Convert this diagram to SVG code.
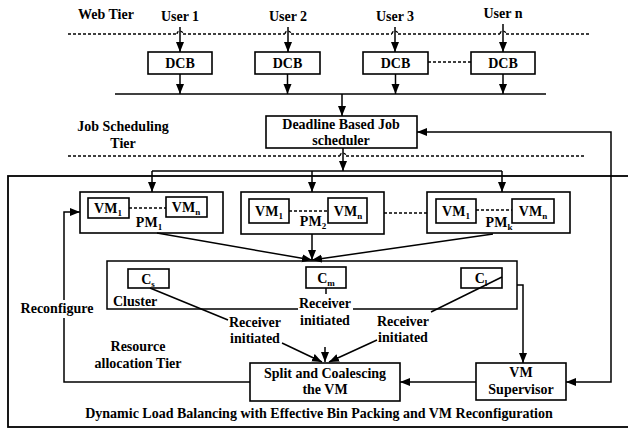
<svg xmlns="http://www.w3.org/2000/svg" width="628" height="429" viewBox="0 0 628 429" font-family="'Liberation Serif', 'DejaVu Serif', serif" font-weight="bold">
<style>
text{font-family:'Liberation Serif','DejaVu Serif',serif;font-weight:bold;font-size:14px;fill:#000}
.m{text-anchor:middle}
.box{fill:#fff;stroke:#000;stroke-width:1.6}
.ln{fill:none;stroke:#000;stroke-width:1.5}
.dash{fill:none;stroke:#000;stroke-width:1.3;stroke-dasharray:3 2}
.arr{marker-end:url(#ah)}
.sub{font-size:9px}
</style>
<defs>
<marker id="ah" markerUnits="userSpaceOnUse" markerWidth="10" markerHeight="10" refX="10" refY="4" orient="auto-start-reverse"><path d="M0,0 L10,4 L0,8 z" fill="#000"/></marker>
</defs>
<rect x="0" y="0" width="628" height="429" fill="#fff"/>

<g id="labels">
<text x="106" y="19" class="m">Web Tier</text>
<text x="123" y="131" class="m">Job Scheduling</text>
<text x="123" y="148" class="m">Tier</text>
<text x="138" y="351" class="m">Resource</text>
<text x="138" y="368" class="m">allocation Tier</text>
<text x="319" y="418" class="m">Dynamic Load Balancing with Effective Bin Packing and VM Reconfiguration</text>
</g>

<g id="tier-lines">
<path class="dash" d="M68,34 H177 M183,34 H285 M291,34 H392 M398,34 H500 M506,34 H590"/>
<path class="dash" d="M177,34 a3,3 0 0 1 6,0 M285,34 a3,3 0 0 1 6,0 M392,34 a3,3 0 0 1 6,0 M500,34 a3,3 0 0 1 6,0"/>
<path class="dash" d="M68,156 H340 M346,156 H586"/>
<path class="dash" d="M340,156 a3,3 0 0 1 6,0"/>
<rect x="8" y="176" width="640" height="251" fill="none" stroke="#000" stroke-width="1.8"/>
</g>

<g id="user1"><text x="180" y="21" class="m">User 1</text></g>
<g id="user2"><text x="288" y="21" class="m">User 2</text></g>
<g id="user3"><text x="395" y="21" class="m">User 3</text></g>
<g id="usern"><text x="503" y="18" class="m">User n</text></g>

<g id="dcb1"><rect class="box" x="148" y="52" width="64" height="22"/><text x="180" y="68" class="m">DCB</text></g>
<g id="dcb2"><rect class="box" x="255" y="52" width="65" height="22"/><text x="287.5" y="68" class="m">DCB</text></g>
<g id="dcb3"><rect class="box" x="363" y="52" width="65" height="22"/><text x="395.5" y="68" class="m">DCB</text></g>
<g id="dcb4"><rect class="box" x="471" y="52" width="64" height="22"/><text x="503" y="68" class="m">DCB</text></g>

<g id="scheduler"><rect class="box" x="266" y="116" width="151" height="32"/>
<text x="341" y="129" class="m">Deadline Based Job</text><text x="341" y="145" class="m">scheduler</text></g>

<g id="pm1"><rect class="box" x="80" y="192" width="143" height="41"/>
<rect class="box" x="88" y="198" width="41" height="20"/><text x="108" y="213" class="m">VM<tspan class="sub" dy="3">1</tspan></text>
<rect class="box" x="166" y="197" width="41" height="20"/><text x="186" y="212" class="m">VM<tspan class="sub" dy="3">n</tspan></text>
<path class="dash" d="M129,208 H166"/>
<text x="149" y="227" class="m">PM<tspan class="sub" dy="3">1</tspan></text></g>

<g id="pm2"><rect class="box" x="241" y="192" width="143" height="42"/>
<rect class="box" x="249" y="199" width="40" height="24"/><text x="269" y="216" class="m">VM<tspan class="sub" dy="3">1</tspan></text>
<rect class="box" x="328" y="198" width="39" height="25"/><text x="348" y="216" class="m">VM<tspan class="sub" dy="3">n</tspan></text>
<path class="dash" d="M289,211 H328"/>
<text x="313" y="226" class="m">PM<tspan class="sub" dy="3">2</tspan></text></g>

<g id="pmk"><rect class="box" x="427" y="192" width="143" height="41"/>
<rect class="box" x="436" y="199" width="40" height="24"/><text x="456" y="216" class="m">VM<tspan class="sub" dy="3">1</tspan></text>
<rect class="box" x="512" y="199" width="42" height="24"/><text x="533" y="216" class="m">VM<tspan class="sub" dy="3">n</tspan></text>
<path class="dash" d="M476,210 H512"/>
<text x="499" y="227" class="m">PM<tspan class="sub" dy="3">k</tspan></text></g>

<g id="cluster">
<path class="ln" stroke-width="1.6" d="M298,309 H107 V261 H517 V309 H353"/>
<rect class="box" x="128" y="269" width="41" height="19"/><text x="148" y="284" class="m">C<tspan class="sub" dy="3">s</tspan></text>
<rect class="box" x="306" y="267" width="40" height="21"/><text x="326" y="283" class="m">C<tspan class="sub" dy="3">m</tspan></text>
<rect class="box" x="461" y="268" width="41" height="20"/><text x="481" y="283" class="m">C<tspan class="sub" dy="3">l</tspan></text>
<text x="113" y="306">Cluster</text>
</g>

<g id="split"><rect class="box" x="250" y="363" width="150" height="38"/>
<text x="325" y="378" class="m">Split and Coalescing</text><text x="325" y="394" class="m">the VM</text></g>

<g id="supervisor"><rect class="box" x="476" y="363" width="90" height="37"/>
<text x="521" y="377" class="m">VM</text><text x="521" y="394" class="m">Supervisor</text></g>

<g id="connector-labels">
<text x="325" y="308" class="m">Receiver</text><text x="325" y="325" class="m">initiated</text>
<text x="255" y="327" class="m">Receiver</text><text x="255" y="343" class="m">initiated</text>
<text x="403" y="326" class="m">Receiver</text><text x="403" y="342" class="m">initiated</text>
<text x="57" y="313" class="m">Reconfigure</text>
</g>

<g id="connectors">
<path class="ln arr" d="M180,27 V52"/>
<path class="ln arr" d="M288,27 V52"/>
<path class="ln arr" d="M395,27 V52"/>
<path class="ln arr" d="M503,24 V52"/>
<path class="ln arr" d="M180,74 V94"/>
<path class="ln arr" d="M287.5,74 V94"/>
<path class="ln arr" d="M395.5,74 V94"/>
<path class="ln arr" d="M503,74 V94"/>
<path class="ln" d="M115,94 H546"/>
<path class="ln arr" d="M342,94 V116"/>
<path class="ln arr" d="M343,148 V171"/>
<path class="ln" d="M152,171 H502"/>
<path class="ln arr" d="M152,171 V192"/>
<path class="ln arr" d="M312,171 V192"/>
<path class="ln arr" d="M502,171 V192"/>
<path class="dash" d="M428,62 H471"/>
<path class="dash" d="M384,213 H427"/>
<path class="ln arr" d="M157,233 L312,260"/>
<path class="ln arr" d="M312,234 V260"/>
<path class="ln arr" d="M493,234 L312,260"/>
<path class="ln" d="M150,288 L228,320"/>
<path class="ln" d="M326,288 V294"/>
<path class="ln" d="M502,277 L431,312"/>
<path class="ln arr" d="M282,343 L322,362"/>
<path class="ln arr" d="M325,347 V362"/>
<path class="ln arr" d="M377,340 L329,362"/>
<path class="ln arr" d="M517,285 H523 V363"/>
<path class="ln arr" d="M476,382 H400"/>
<path class="ln arr" d="M566,382 H611 V132 H417" style="marker-start:url(#ah)"/>
<path class="ln" d="M250,382 H64 V318"/>
<path class="ln arr" d="M64,300 V212 H80"/>
</g>
</svg>
